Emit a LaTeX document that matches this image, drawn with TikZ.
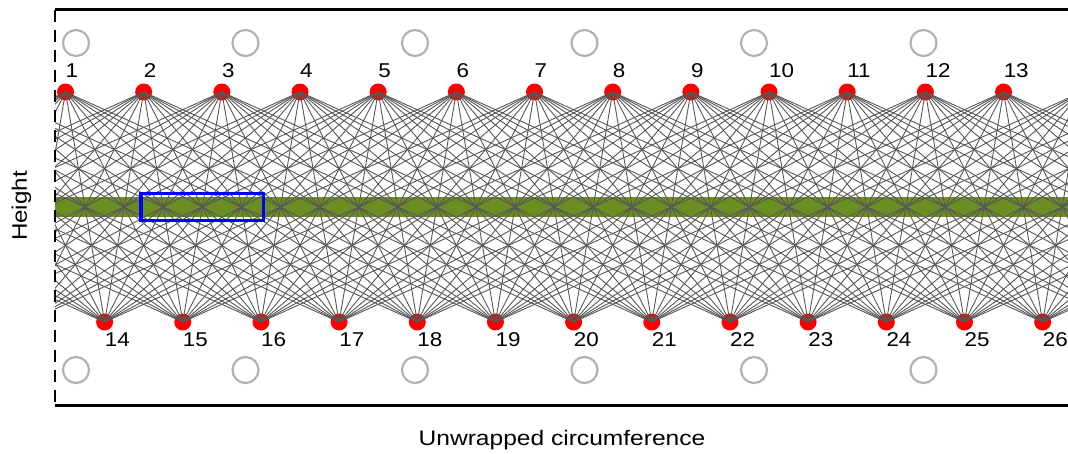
\documentclass[tikz,border=0pt]{standalone}
\usepackage{fontspec}
\setmainfont{Liberation Sans}
\definecolor{olivedrab}{RGB}{107,142,35}
\begin{document}
\begin{tikzpicture}[x=1pt,y=-1pt,
  member/.style={draw=black!66, line width=0.9pt},
  joint/.style={circle, fill=red, inner sep=0pt, minimum size=17pt},
  jointlabel/.style={anchor=west, inner sep=0pt, font=\fontsize{20}{21}\selectfont},
  marker/.style={circle, draw=black!30, line width=2.2pt, inner sep=0pt, minimum size=26pt},
  axislabel/.style={anchor=base, inner sep=0pt, font=\fontsize{21}{24}\selectfont},
]
\useasboundingbox (0,0) rectangle (1068,453);

% horizontal band at mid-height
\fill[olivedrab] (55,197) rectangle (1068,217);

% joints on the top and bottom rings
\foreach \i in {1,...,13}
  \node[joint] (n\i) at ({65.5+(\i-1)*78.17},92) {};
\foreach \j in {14,...,26}
  \node[joint] (n\j) at ({104.6+(\j-14)*78.17},322) {};

% periodic copies of the ring positions (unwrapped cylinder)
\foreach \i in {-7,...,20}
  \coordinate (t\i) at ({65.5+\i*78.17},92);
\foreach \j in {-14,...,27}
  \coordinate (b\j) at ({104.6+\j*78.17},322);

% members: every top joint to every bottom joint, both ways round
\begin{scope}
  \clip (55,80) rectangle (1068,335);
  \foreach \i in {-7,...,20}
    \foreach \k in {-7,...,6} {
      \pgfmathtruncatemacro\j{\i+\k}
      \draw[member] (t\i) -- (b\j);
    }
\end{scope}

% highlighted cell
\draw[blue, line width=3.3pt] (141,193.5) rectangle (263.5,220.5);

% joint numbers
\foreach \i in {1,...,13}
  \node[jointlabel] (l\i) at ({65.5+(\i-1)*78.17},71) {\scalebox{1.12}[1]{\i}};
\foreach \j in {14,...,26}
  \node[jointlabel] (l\j) at ({104.6+(\j-14)*78.17},340) {\scalebox{1.12}[1]{\j}};

% grey markers above and below
\foreach \m in {0,...,5} {
  \node[marker] (ct\m) at ({76+\m*169.5},43) {};
  \node[marker] (cb\m) at ({76+\m*169.5},370) {};
}

% frame
\draw[line width=3pt] (55,9.5) -- (1068,9.5);
\draw[line width=3pt] (55,405.5) -- (1068,405.5);
\draw[line width=2pt, dash pattern=on 12pt off 8pt] (55,9.5) -- (55,405.5);

% axis titles
\node[axislabel] (xlab) at (562,445) {\scalebox{1.17}[1]{Unwrapped circumference}};
\node[axislabel, rotate=90] (ylab) at (27,206) {\scalebox{1.15}[1]{Height}};
\end{tikzpicture}
\end{document}
